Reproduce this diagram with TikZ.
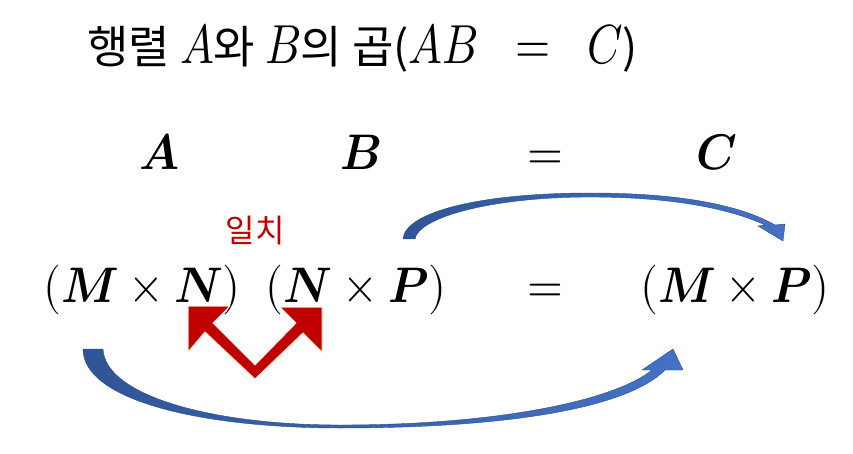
\documentclass[tikz,border=0pt]{standalone}
\usepackage{graphicx}
\usepackage{fontspec}
\usepackage{unicode-math}
\setmathfont{Latin Modern Math}
\newfontfamily\kr{Noto Sans CJK KR}
\definecolor{myred}{RGB}{192,0,0}
\definecolor{blueA}{RGB}{47,85,151}
\definecolor{blueB}{RGB}{68,114,196}
\newcommand{\tm}[1]{\scalebox{0.82}[1]{\fontsize{55}{62}\selectfont$#1$}}
\newcommand{\bmx}[1]{\scalebox{0.92}[1]{$#1$}}
\begin{document}
\begin{tikzpicture}[x=1pt,y=-1pt]
\useasboundingbox (0,0) rectangle (853,454);
\tikzset{
 bigmath/.style={font=\fontsize{50}{60}\selectfont, inner sep=0pt},
 titletext/.style={font=\kr\fontsize{45}{52}\selectfont, inner sep=0pt},
 redlabel/.style={font=\kr\fontsize{32}{38}\selectfont, text=myred, inner sep=0pt},
 blueband/.style={left color=blueA, right color=blueB, draw=blueA!90!black, line width=0.4pt},
 redarrow/.style={fill=myred, draw=orange!20, line width=1pt},
}
% title
\node[titletext, anchor=base west] (title) at (87,64) {행렬 \tm{A}와 \tm{B}의 곱(\tm{AB}\hspace{37pt}\tm{=}\hspace{37pt}\tm{C})};
% row 2
\node[bigmath, anchor=base] (A) at (159,170) {\bmx{\symbfit{A}}};
\node[bigmath, anchor=base] (B) at (361,170) {\bmx{\symbfit{B}}};
\node[bigmath, anchor=base] (eq1) at (545,170) {\bmx{=}};
\node[bigmath, anchor=base] (C) at (717,170) {\bmx{\symbfit{C}}};
% label
\node[redlabel] (match) at (255,231) {일치};
% row 3
\node[bigmath, anchor=base] (MN) at (142,302) {\bmx{(\symbfit{M}\times\symbfit{N})}};
\node[bigmath, anchor=base] (NP) at (356,302) {\bmx{(\symbfit{N}\times\symbfit{P})}};
\node[bigmath, anchor=base] (eq2) at (545,302) {\bmx{=}};
\node[bigmath, anchor=base] (MP) at (735,302) {\bmx{(\symbfit{M}\times\symbfit{P})}};
% red double arrow
\path[redarrow] (188,306) -- (230,306) -- (213,323) -- (255,365) -- (296,323) -- (280,307) -- (322,307) -- (322,352) -- (303,333) -- (255,379) -- (205,332) -- (188,352) -- cycle;
% top blue curved arrow
\path[blueband] (403,239) .. controls (405,212) and (480,193) .. (590,193) .. controls (680,193) and (740,205) .. (775,225) -- (785,224) -- (783,241) -- (758,226) -- (765,225) .. controls (735,211) and (680,197) .. (590,197) .. controls (490,197) and (418,218) .. (415,239) -- cycle;
% bottom blue curved arrow
\path[blueband] (83,349) .. controls (83,400) and (200,428) .. (340,428) .. controls (500,428) and (625,410) .. (665,370) -- (683,370) -- (673,349) -- (642,370) -- (652,370) .. controls (615,400) and (500,425) .. (340,425) .. controls (210,425) and (105,395) .. (103,349) -- cycle;
\end{tikzpicture}
\end{document}
